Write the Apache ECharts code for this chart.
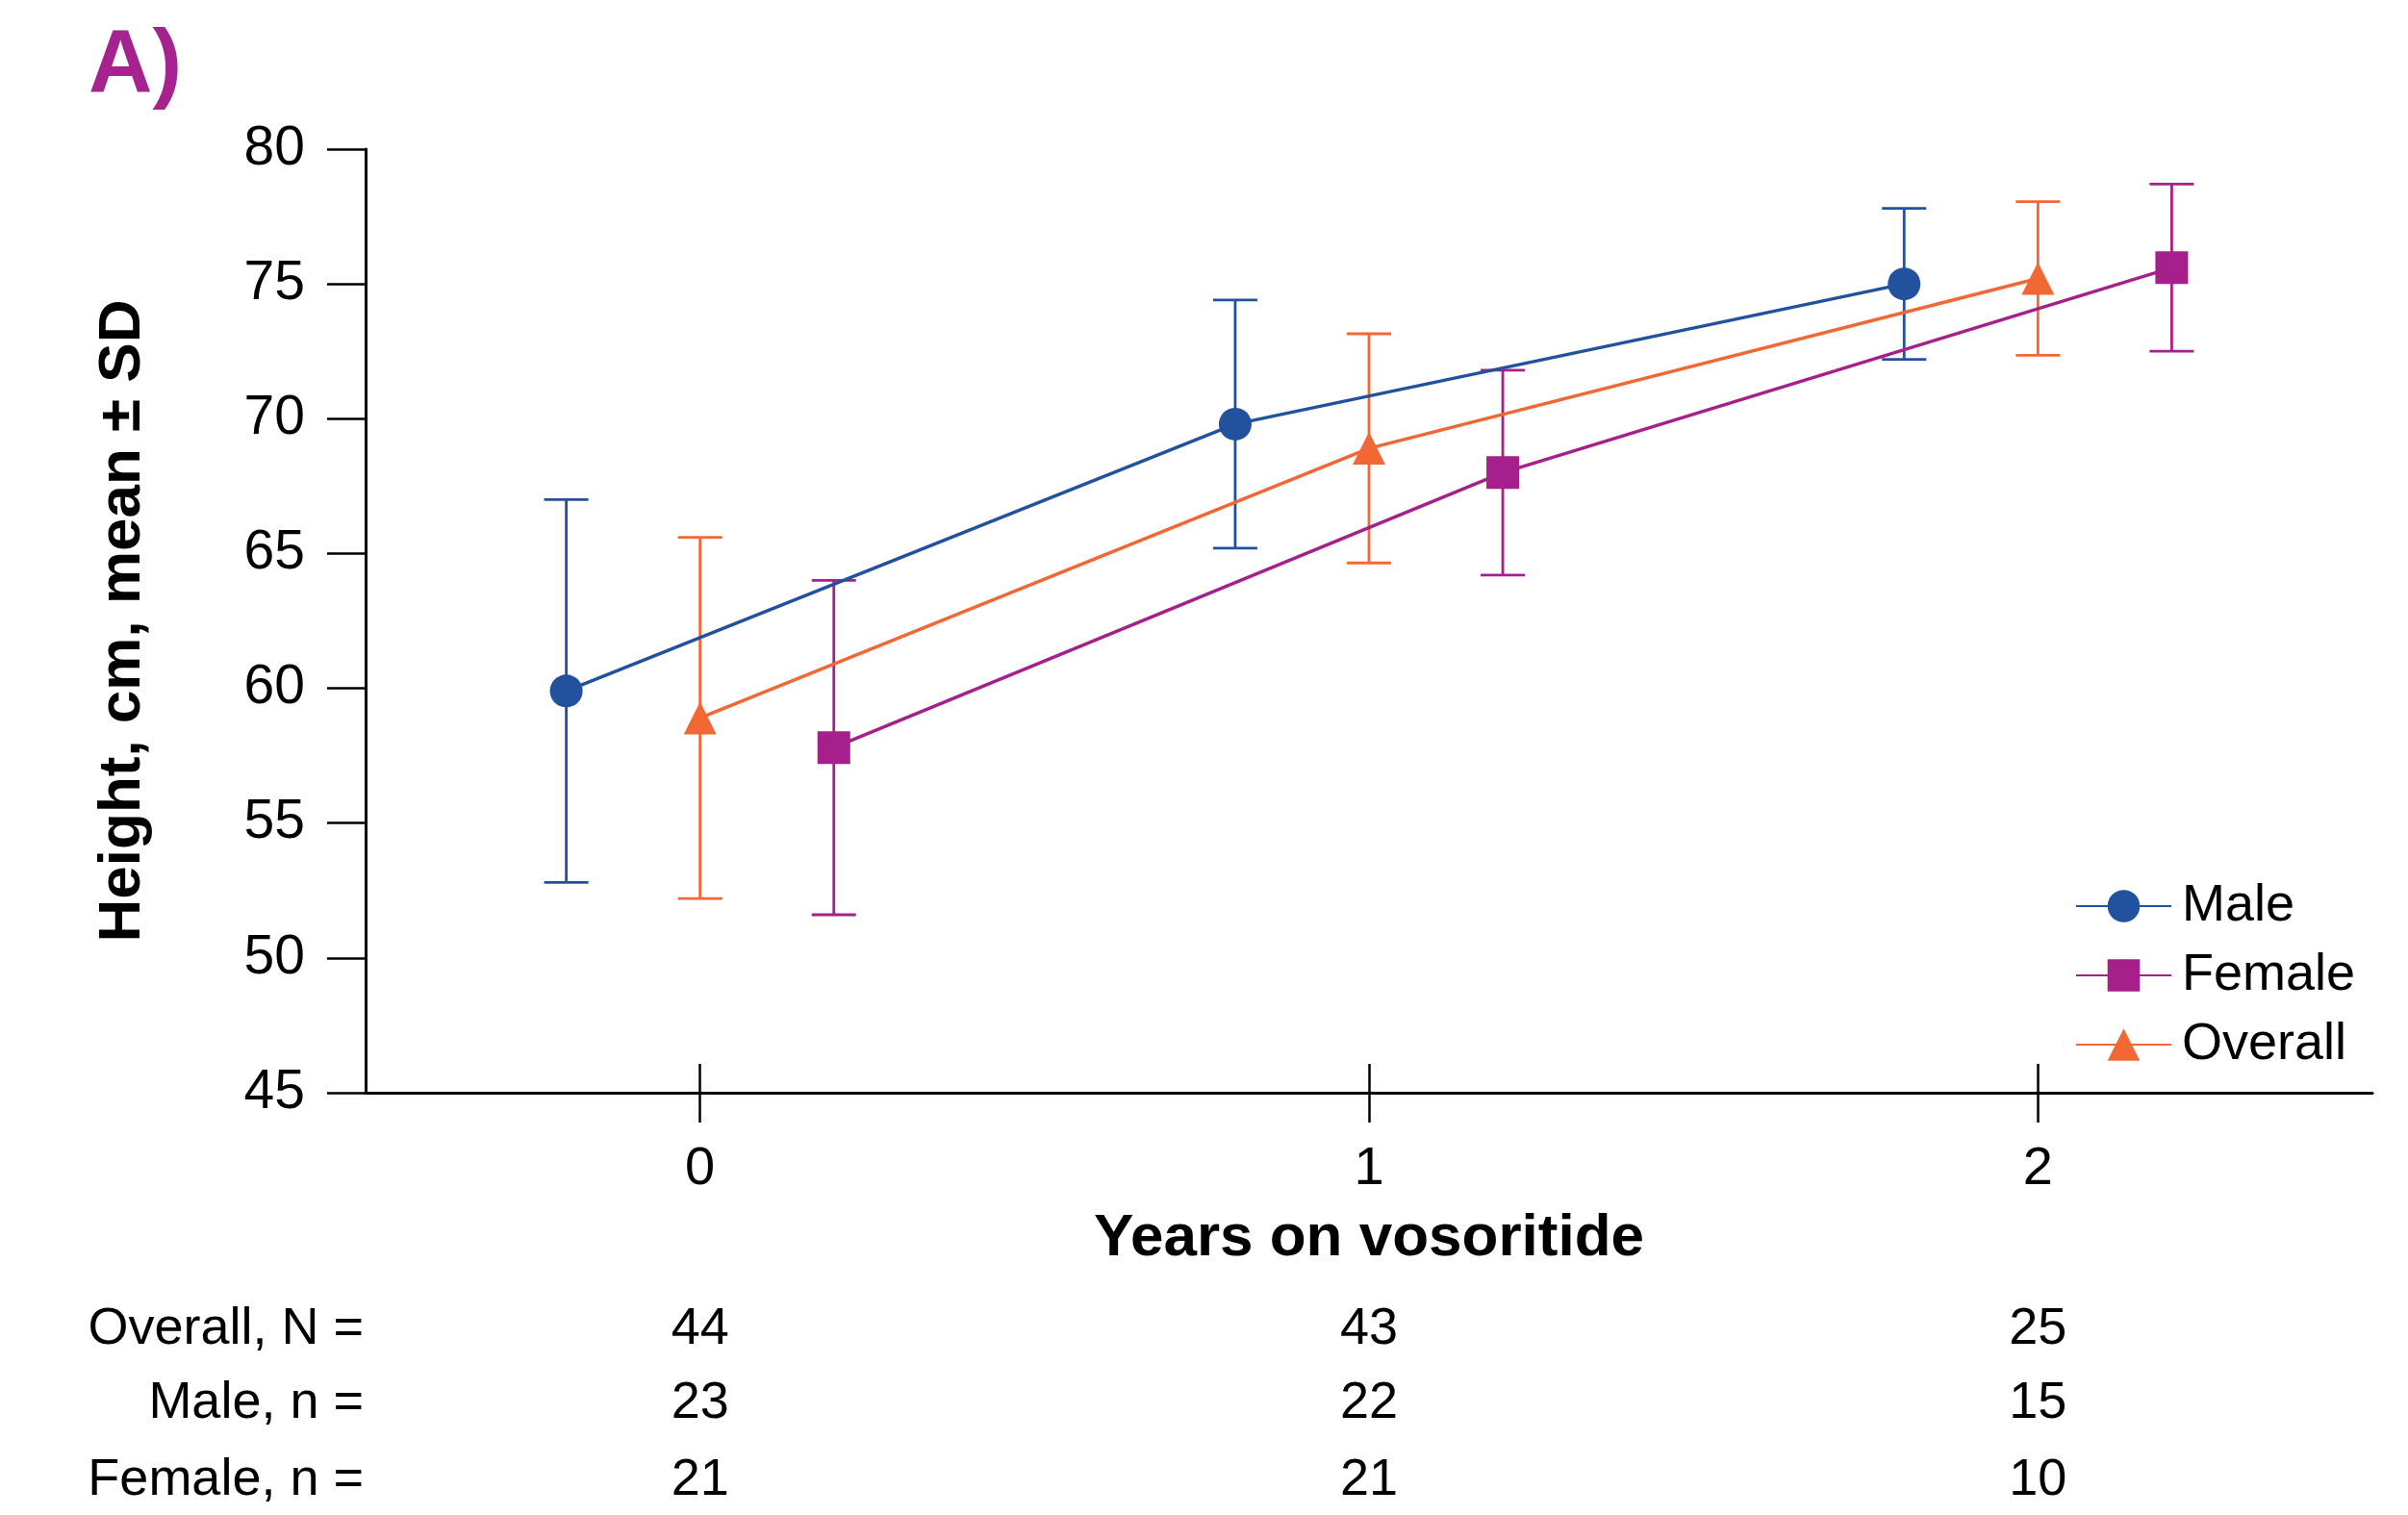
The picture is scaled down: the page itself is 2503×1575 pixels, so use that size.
<!DOCTYPE html>
<html>
<head>
<meta charset="utf-8">
<script src="https://cdn.jsdelivr.net/npm/echarts@6/dist/echarts.min.js"></script>
<style>
  html, body { margin: 0; padding: 0; background: #fff; }
  #chart { width: 2503px; height: 1575px; }
</style>
</head>
<body>
<div id="chart"></div>
<script>
// data
const years = [0, 1, 2];
const yearLabels = ['0', '1', '2'];
const maleMean = [59.9, 69.8, 75.0];
const maleSD = [7.1, 4.6, 2.8];
const femaleMean = [57.8, 68.0, 75.6];
const femaleSD = [6.2, 3.8, 3.1];
const overallMean = [58.9, 68.9, 75.2];
const overallSD = [6.7, 4.25, 2.85];
const overallN = [44, 43, 25];
const maleN = [23, 22, 15];
const femaleN = [21, 21, 10];
const rowLabels = ['Overall, N =', 'Male, n =', 'Female, n ='];

const FONT = '"Liberation Sans", Arial, Helvetica, sans-serif';
const BLUE = '#22519d', PURPLE = '#a6208b', ORANGE = '#f26834';

const groups = [
  { name: 'Male', mean: maleMean, sd: maleSD, color: BLUE, symbol: 'circle', dx: -0.2 },
  { name: 'Female', mean: femaleMean, sd: femaleSD, color: PURPLE, symbol: 'rect', dx: 0.2 },
  { name: 'Overall', mean: overallMean, sd: overallSD, color: ORANGE, symbol: 'triangle', dx: 0 }
];

function errorBar(color) {
  return function (params, api) {
    const x = api.value(0);
    const lo = api.coord([x, api.value(1)]);
    const hi = api.coord([x, api.value(2)]);
    const w = 23;
    const style = { stroke: color, lineWidth: 2.8 };
    return {
      type: 'group',
      children: [
        { type: 'line', shape: { x1: lo[0], y1: lo[1], x2: hi[0], y2: hi[1] }, style: style },
        { type: 'line', shape: { x1: hi[0] - w, y1: hi[1], x2: hi[0] + w, y2: hi[1] }, style: style },
        { type: 'line', shape: { x1: lo[0] - w, y1: lo[1], x2: lo[0] + w, y2: lo[1] }, style: style }
      ]
    };
  };
}

const series = [];
groups.forEach(function (g) {
  series.push({
    name: g.name + ' SD',
    type: 'custom',
    z: 2,
    renderItem: errorBar(g.color),
    encode: { x: 0, y: [1, 2] },
    data: years.map((y, i) => [y + g.dx, g.mean[i] - g.sd[i], g.mean[i] + g.sd[i]])
  });
});
groups.forEach(function (g) {
  series.push({
    name: g.name,
    type: 'line',
    z: 3,
    symbol: g.symbol,
    symbolSize: 34,
    color: g.color,
    lineStyle: { color: g.color, width: 3.5 },
    itemStyle: { color: g.color },
    data: years.map((y, i) => [y + g.dx, g.mean[i]])
  });
});

const baseX = {
  type: 'value', min: -0.5, max: 2.5, interval: 0.5, position: 'bottom',
  splitLine: { show: false }
};
const tickStyle = { color: '#000', width: 2.5 };

function countAxis(values, margin) {
  return Object.assign({}, baseX, {
    axisLine: { show: false, onZero: false },
    axisTick: { show: false },
    axisLabel: {
      customValues: years,
      formatter: v => String(values[years.indexOf(v)]),
      margin: margin, verticalAlign: 'middle',
      fontSize: 54, color: '#000', fontFamily: FONT
    }
  });
}

const rowCenters = [1382, 1459, 1539];
const axisY = 1136;

const chart = echarts.init(document.getElementById('chart'));
chart.setOption({
  animation: false,
  backgroundColor: '#fff',
  textStyle: { fontFamily: FONT, color: '#000' },
  grid: { left: 380, right: 37, top: 155, bottom: 1575 - axisY, containLabel: false },
  xAxis: [
    Object.assign({}, baseX, {
      axisLine: { show: true, onZero: false, lineStyle: { color: '#000', width: 3 } },
      axisTick: { show: true, customValues: years, length: 31, lineStyle: tickStyle },
      axisLabel: {
        customValues: years,
        formatter: v => yearLabels[years.indexOf(v)],
        margin: 80, verticalAlign: 'middle',
        fontSize: 56, color: '#000', fontFamily: FONT
      },
      name: 'Years on vosoritide',
      nameLocation: 'middle',
      nameGap: 152,
      nameTextStyle: { fontSize: 62, fontWeight: 'bold', color: '#000', verticalAlign: 'middle', fontFamily: FONT }
    }),
    Object.assign({}, baseX, {
      axisLine: { show: false, onZero: false },
      axisTick: { show: true, inside: true, customValues: years, length: 30, lineStyle: tickStyle },
      axisLabel: { show: false }
    }),
    countAxis(overallN, rowCenters[0] - axisY),
    countAxis(maleN, rowCenters[1] - axisY),
    countAxis(femaleN, rowCenters[2] - axisY)
  ],
  yAxis: {
    type: 'value', min: 45, max: 80, interval: 5,
    axisLine: { show: true, onZero: false, lineStyle: { color: '#000', width: 3 } },
    axisTick: { show: true, length: 40, lineStyle: tickStyle },
    axisLabel: { margin: 63, fontSize: 57, color: '#000', fontFamily: FONT },
    splitLine: { show: false },
    name: 'Height, cm, mean ± SD',
    nameLocation: 'middle',
    nameGap: 252,
    nameTextStyle: { fontSize: 62, fontWeight: 'bold', color: '#000', verticalAlign: 'middle', fontFamily: FONT }
  },
  legend: {
    data: ['Male', 'Female', 'Overall'],
    orient: 'vertical',
    left: 2152, top: 910,
    itemWidth: 99, itemHeight: 42, itemGap: 18,
    textStyle: { fontSize: 54, color: '#000', fontFamily: FONT, padding: [0, 0, 0, 6] }
  },
  graphic: [
    {
      type: 'text', x: 92, y: 70,
      style: { text: 'A)', font: 'bold 92px ' + FONT, fill: '#a6238f', align: 'left', verticalAlign: 'middle' }
    }
  ].concat(rowLabels.map((t, i) => ({
    type: 'text', x: 378, y: rowCenters[i],
    style: { text: t, font: '54px ' + FONT, fill: '#000', align: 'right', verticalAlign: 'middle' }
  }))),
  series: series
});
</script>
</body>
</html>
